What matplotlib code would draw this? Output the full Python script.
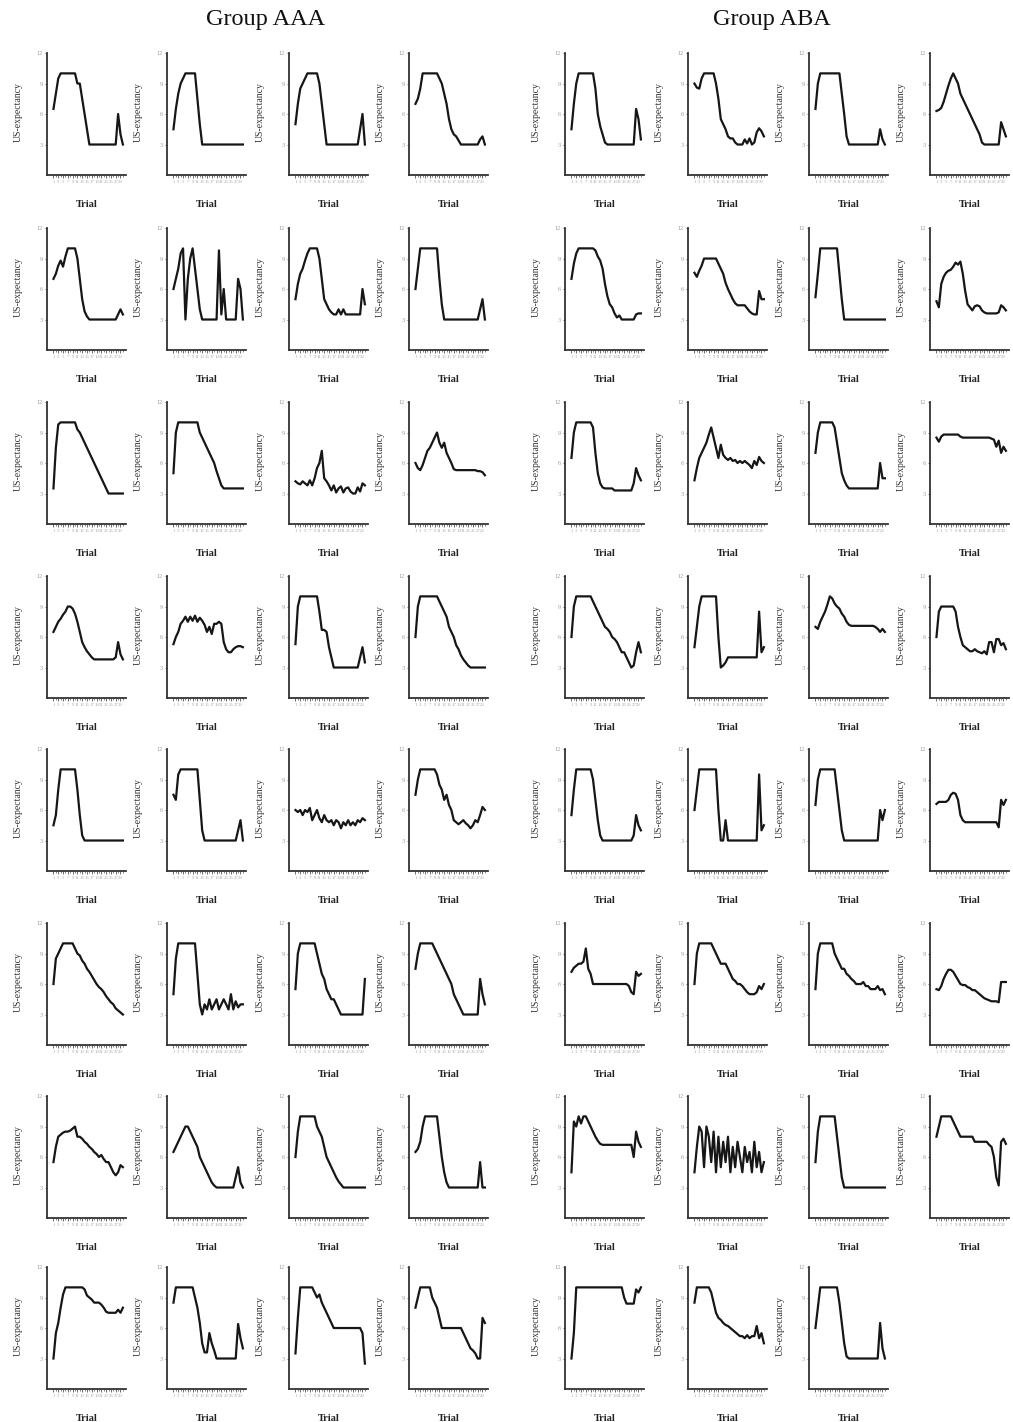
import matplotlib
matplotlib.use("Agg")
import matplotlib.pyplot as plt

plt.rcParams['font.family'] = ['Liberation Serif', 'DejaVu Serif']

trials = list(range(1, 31))
y_ticks = [3, 6, 9, 12]
x_ticks = list(range(1, 30, 2))
group_titles = ["Group AAA", "Group ABA"]

aaa_values = [
    [6.5, 8, 9.5, 10, 10, 10, 10, 10, 10, 10, 9, 9, 7.5, 6, 4.5, 3, 3, 3, 3, 3, 3, 3, 3, 3, 3, 3, 3, 6, 4, 3],
    [4.5, 6.5, 8, 9, 9.5, 10, 10, 10, 10, 10, 7.5, 5, 3, 3, 3, 3, 3, 3, 3, 3, 3, 3, 3, 3, 3, 3, 3, 3, 3, 3],
    [5, 7, 8.5, 9, 9.5, 10, 10, 10, 10, 10, 9, 7, 5, 3, 3, 3, 3, 3, 3, 3, 3, 3, 3, 3, 3, 3, 3, 4.5, 6, 3],
    [7, 7.5, 8.5, 10, 10, 10, 10, 10, 10, 10, 9.5, 9, 8, 7, 5.5, 4.5, 4, 3.8, 3.4, 3, 3, 3, 3, 3, 3, 3, 3, 3.5, 3.8, 3],
    [7, 7.5, 8.3, 8.8, 8.2, 9.2, 10, 10, 10, 10, 9, 7, 5, 3.8, 3.3, 3, 3, 3, 3, 3, 3, 3, 3, 3, 3, 3, 3, 3.5, 4, 3.5],
    [6, 7, 8, 9.5, 10, 3, 7, 9, 10, 8, 6, 4, 3, 3, 3, 3, 3, 3, 3, 9.8, 3.5, 6, 3, 3, 3, 3, 3, 7, 6, 3],
    [5, 6.5, 7.5, 8, 8.8, 9.5, 10, 10, 10, 10, 9, 7, 5, 4.5, 4, 3.7, 3.5, 3.5, 4, 3.5, 4, 3.5, 3.5, 3.5, 3.5, 3.5, 3.5, 3.5, 6, 4.5],
    [6, 8, 10, 10, 10, 10, 10, 10, 10, 10, 7, 4.5, 3, 3, 3, 3, 3, 3, 3, 3, 3, 3, 3, 3, 3, 3, 3, 4, 5, 3],
    [3.5, 7.5, 9.8, 10, 10, 10, 10, 10, 10, 10, 9.3, 9, 8.5, 8, 7.5, 7, 6.5, 6, 5.5, 5, 4.5, 4, 3.5, 3, 3, 3, 3, 3, 3, 3],
    [5, 9, 10, 10, 10, 10, 10, 10, 10, 10, 10, 9, 8.5, 8, 7.5, 7, 6.5, 6, 5.2, 4.5, 3.8, 3.5, 3.5, 3.5, 3.5, 3.5, 3.5, 3.5, 3.5, 3.5],
    [4.2, 4.0, 3.9, 4.2, 4.0, 3.8, 4.3, 3.8, 4.5, 5.5, 6, 7.2, 4.5, 4.2, 3.8, 3.3, 3.8, 3.1, 3.5, 3.7, 3.1, 3.5, 3.6, 3.2, 3.0, 3.0, 3.6, 3.2, 4.0, 3.8],
    [6, 5.5, 5.3, 5.8, 6.5, 7.2, 7.5, 8, 8.5, 9, 8, 7.5, 8, 7, 6.5, 6, 5.4, 5.3, 5.3, 5.3, 5.3, 5.3, 5.3, 5.3, 5.3, 5.3, 5.2, 5.2, 5.1, 4.8],
    [6.5, 7, 7.5, 7.8, 8.2, 8.5, 9, 9, 8.8, 8.3, 7.5, 6.5, 5.5, 5, 4.6, 4.3, 4, 3.8, 3.8, 3.8, 3.8, 3.8, 3.8, 3.8, 3.8, 3.8, 4, 5.5, 4.3, 3.8],
    [5.3, 6, 6.5, 7.3, 7.6, 8, 7.5, 8, 7.6, 8.1, 7.5, 7.9, 7.6, 7.2, 6.5, 7.0, 6.3, 7.3, 7.3, 7.5, 7.3, 5.5, 4.8, 4.5, 4.5, 4.8, 5, 5.1, 5.1, 5.0],
    [5.3, 9, 10, 10, 10, 10, 10, 10, 10, 10, 8.5, 6.7, 6.7, 6.5, 5, 4, 3, 3, 3, 3, 3, 3, 3, 3, 3, 3, 3, 4, 5, 3.5],
    [6, 9, 10, 10, 10, 10, 10, 10, 10, 10, 9.5, 9, 8.5, 8, 7, 6.5, 6, 5.2, 4.8, 4.2, 3.8, 3.5, 3.2, 3, 3, 3, 3, 3, 3, 3],
    [4.5, 5.5, 8, 10, 10, 10, 10, 10, 10, 10, 8, 5.5, 3.5, 3, 3, 3, 3, 3, 3, 3, 3, 3, 3, 3, 3, 3, 3, 3, 3, 3],
    [7.5, 7, 9.5, 10, 10, 10, 10, 10, 10, 10, 10, 7, 4, 3, 3, 3, 3, 3, 3, 3, 3, 3, 3, 3, 3, 3, 3, 4, 5, 3],
    [6, 5.8, 6, 5.5, 6, 5.8, 6.2, 5, 5.5, 6, 5.2, 4.8, 5.5, 5, 4.8, 5, 4.5, 5, 4.8, 4.2, 4.8, 4.5, 5, 4.5, 4.8, 4.5, 5, 4.8, 5.2, 5],
    [7.5, 9, 10, 10, 10, 10, 10, 10, 10, 9.5, 8.5, 8, 7, 7.5, 6.5, 6, 5, 4.8, 4.6, 4.8, 5, 4.7, 4.5, 4.2, 4.5, 5, 4.8, 5.5, 6.3, 6],
    [6, 8.5, 9, 9.5, 10, 10, 10, 10, 10, 9.5, 9, 8.8, 8.3, 8, 7.5, 7.2, 6.8, 6.4, 6, 5.7, 5.5, 5.2, 4.8, 4.5, 4.2, 4, 3.6, 3.4, 3.2, 3],
    [5, 8.5, 10, 10, 10, 10, 10, 10, 10, 10, 7, 4, 3, 4, 3.5, 4.5, 3.5, 4, 4.5, 3.5, 4, 4.5, 4, 3.5, 5, 3.5, 4.3, 3.7, 4, 4],
    [5.5, 9, 10, 10, 10, 10, 10, 10, 10, 9, 8, 7, 6.5, 5.5, 5, 4.5, 4.5, 4, 3.5, 3, 3, 3, 3, 3, 3, 3, 3, 3, 3, 6.5],
    [7.5, 9, 10, 10, 10, 10, 10, 10, 9.5, 9, 8.5, 8, 7.5, 7, 6.5, 6, 5, 4.5, 4, 3.5, 3, 3, 3, 3, 3, 3, 3, 6.5, 5, 4],
    [5.5, 7, 8, 8.2, 8.4, 8.5, 8.5, 8.6, 8.8, 9, 8, 8, 7.8, 7.5, 7.3, 7, 6.8, 6.5, 6.3, 6, 6.2, 5.8, 5.5, 5.5, 5, 4.5, 4.2, 4.5, 5.2, 5],
    [6.5, 7, 7.5, 8, 8.5, 9, 9, 8.5, 8, 7.5, 7, 6, 5.5, 5, 4.5, 4, 3.5, 3.2, 3, 3, 3, 3, 3, 3, 3, 3, 4, 5, 3.5, 3],
    [6, 8.5, 10, 10, 10, 10, 10, 10, 10, 9, 8.5, 8, 7, 6, 5.5, 5, 4.5, 4, 3.6, 3.3, 3, 3, 3, 3, 3, 3, 3, 3, 3, 3],
    [6.5, 6.8, 7.5, 9, 10, 10, 10, 10, 10, 10, 8, 6, 4.5, 3.5, 3, 3, 3, 3, 3, 3, 3, 3, 3, 3, 3, 3, 3, 5.5, 3, 3],
    [3, 5.5, 6.5, 8, 9.3, 10, 10, 10, 10, 10, 10, 10, 10, 9.8, 9.2, 9, 8.8, 8.5, 8.5, 8.5, 8.3, 8, 7.6, 7.5, 7.5, 7.5, 7.5, 7.8, 7.5, 8],
    [8.5, 10, 10, 10, 10, 10, 10, 10, 10, 9, 8, 6.5, 4.5, 3.6, 3.6, 5.5, 4.5, 3.8, 3, 3, 3, 3, 3, 3, 3, 3, 3, 6.4, 5, 4],
    [3.5, 7, 10, 10, 10, 10, 10, 10, 9.5, 9, 9.3, 8.5, 8, 7.5, 7, 6.5, 6, 6, 6, 6, 6, 6, 6, 6, 6, 6, 6, 6, 5.5, 2.5],
    [8, 9, 10, 10, 10, 10, 10, 9, 8.5, 8, 7, 6, 6, 6, 6, 6, 6, 6, 6, 6, 5.5, 5, 4.5, 4, 3.8, 3.5, 3, 3, 7, 6.5],
]

aba_values = [
    [4.5, 7, 9, 10, 10, 10, 10, 10, 10, 10, 8.5, 6, 4.8, 4, 3.2, 3, 3, 3, 3, 3, 3, 3, 3, 3, 3, 3, 3, 6.5, 5.5, 3.5],
    [9, 8.6, 8.5, 9.5, 10, 10, 10, 10, 10, 9, 7.5, 5.5, 5, 4.5, 3.8, 3.6, 3.6, 3.2, 3, 3, 3, 3.5, 3.1, 3.6, 3, 3.2, 4.2, 4.6, 4.3, 3.8],
    [6.5, 9, 10, 10, 10, 10, 10, 10, 10, 10, 10, 8, 6, 3.8, 3, 3, 3, 3, 3, 3, 3, 3, 3, 3, 3, 3, 3, 4.5, 3.5, 3],
    [6.3, 6.4, 6.6, 7.2, 8, 8.8, 9.5, 10, 9.5, 9, 8, 7.5, 7, 6.5, 6, 5.5, 5, 4.5, 4, 3.2, 3, 3, 3, 3, 3, 3, 3, 5.2, 4.5, 3.8],
    [7, 8.5, 9.5, 10, 10, 10, 10, 10, 10, 10, 9.8, 9.2, 8.8, 8, 6.5, 5.3, 4.5, 4.2, 3.6, 3.2, 3.4, 3, 3, 3, 3, 3, 3, 3.5, 3.6, 3.6],
    [7.6, 7.2, 7.8, 8.3, 9, 9, 9, 9, 9, 9, 8.5, 8, 7.5, 6.6, 6, 5.5, 5, 4.6, 4.4, 4.4, 4.4, 4.4, 4.1, 3.8, 3.6, 3.5, 3.5, 5.8, 5, 5],
    [5.2, 7.5, 10, 10, 10, 10, 10, 10, 10, 10, 7.5, 5, 3, 3, 3, 3, 3, 3, 3, 3, 3, 3, 3, 3, 3, 3, 3, 3, 3, 3],
    [4.8, 4.2, 6.5, 7.2, 7.6, 7.8, 7.9, 8.2, 8.6, 8.4, 8.7, 7.5, 5.8, 4.5, 4.2, 3.9, 4.3, 4.4, 4.3, 3.9, 3.7, 3.6, 3.6, 3.6, 3.6, 3.6, 3.7, 4.4, 4.2, 3.9],
    [6.5, 9, 10, 10, 10, 10, 10, 10, 10, 9.5, 7, 5, 4, 3.6, 3.5, 3.5, 3.5, 3.5, 3.3, 3.3, 3.3, 3.3, 3.3, 3.3, 3.3, 3.3, 4, 5.5, 4.8, 4.3],
    [4.3, 5.5, 6.5, 7, 7.5, 8, 8.8, 9.5, 8.5, 7.5, 6.5, 7.8, 6.8, 6.5, 6.3, 6.5, 6.2, 6.3, 6, 6.2, 6, 6.2, 6, 5.8, 5.5, 6.2, 5.8, 6.6, 6.2, 6],
    [7, 9, 10, 10, 10, 10, 10, 10, 9.5, 8, 6.5, 5, 4.3, 3.8, 3.5, 3.5, 3.5, 3.5, 3.5, 3.5, 3.5, 3.5, 3.5, 3.5, 3.5, 3.5, 3.5, 6, 4.5, 4.5],
    [8.5, 8.1, 8.6, 8.8, 8.8, 8.8, 8.8, 8.8, 8.8, 8.8, 8.6, 8.5, 8.5, 8.5, 8.5, 8.5, 8.5, 8.5, 8.5, 8.5, 8.5, 8.5, 8.5, 8.4, 8.3, 7.6, 8.2, 7.0, 7.6, 7.2],
    [6, 9, 10, 10, 10, 10, 10, 10, 10, 9.5, 9, 8.5, 8, 7.5, 7, 6.8, 6.5, 6, 5.8, 5.5, 5, 4.5, 4.5, 4, 3.5, 3, 3.2, 4.5, 5.5, 4.5],
    [5, 7, 9, 10, 10, 10, 10, 10, 10, 10, 6, 3, 3.2, 3.5, 4, 4, 4, 4, 4, 4, 4, 4, 4, 4, 4, 4, 4, 8.5, 4.5, 5],
    [7, 6.8, 7.5, 8, 8.5, 9.2, 10, 9.8, 9.3, 9, 8.8, 8.3, 8, 7.5, 7.2, 7.1, 7.1, 7.1, 7.1, 7.1, 7.1, 7.1, 7.1, 7.1, 7.1, 7, 6.8, 6.5, 6.8, 6.5],
    [6, 8.5, 9, 9, 9, 9, 9, 9, 8.5, 7, 6, 5.2, 5, 4.8, 4.6, 4.6, 4.8, 4.6, 4.5, 4.4, 4.6, 4.3, 5.5, 5.5, 4.5, 5.8, 5.8, 5.2, 5.4, 4.8],
    [5.5, 8, 10, 10, 10, 10, 10, 10, 10, 9, 7, 5, 3.5, 3, 3, 3, 3, 3, 3, 3, 3, 3, 3, 3, 3, 3, 3.5, 5.5, 4.5, 4],
    [6, 8, 10, 10, 10, 10, 10, 10, 10, 10, 6, 3, 3, 5, 3, 3, 3, 3, 3, 3, 3, 3, 3, 3, 3, 3, 3, 9.5, 4, 4.5],
    [6.5, 9, 10, 10, 10, 10, 10, 10, 10, 8, 6, 4, 3, 3, 3, 3, 3, 3, 3, 3, 3, 3, 3, 3, 3, 3, 3, 6, 5, 6],
    [6.6, 6.8, 6.8, 6.8, 6.8, 7, 7.5, 7.7, 7.6, 7, 5.5, 5, 4.8, 4.8, 4.8, 4.8, 4.8, 4.8, 4.8, 4.8, 4.8, 4.8, 4.8, 4.8, 4.8, 4.8, 4.3, 7, 6.5, 7],
    [7.2, 7.6, 7.8, 8, 8, 8.2, 9.5, 7.5, 7, 6, 6, 6, 6, 6, 6, 6, 6, 6, 6, 6, 6, 6, 6, 6, 5.8, 5.2, 5, 7.2, 6.8, 7],
    [6, 9, 10, 10, 10, 10, 10, 10, 9.5, 9, 8.5, 8, 8, 8, 7.5, 7, 6.5, 6.3, 6, 6, 5.8, 5.5, 5.2, 5, 5, 5, 5.2, 5.8, 5.5, 6],
    [5.5, 9, 10, 10, 10, 10, 10, 10, 9, 8.5, 8, 7.5, 7.5, 7, 6.8, 6.5, 6.3, 6, 6, 6, 6.2, 5.8, 5.8, 5.5, 5.5, 5.5, 5.8, 5.4, 5.5, 5],
    [5.5, 5.4, 5.8, 6.5, 7, 7.4, 7.4, 7.2, 6.8, 6.4, 6, 5.9, 5.9, 5.7, 5.6, 5.4, 5.4, 5.2, 5, 4.8, 4.6, 4.5, 4.4, 4.3, 4.3, 4.3, 4.2, 6.2, 6.2, 6.2],
    [4.5, 9.5, 9, 10, 9.3, 10, 10, 9.5, 9, 8.5, 8, 7.6, 7.3, 7.2, 7.2, 7.2, 7.2, 7.2, 7.2, 7.2, 7.2, 7.2, 7.2, 7.2, 7.2, 7.2, 6, 8.5, 7.5, 7],
    [4.5, 7, 9, 8.5, 5, 9, 8, 5.5, 8.5, 4.5, 8, 5, 7.5, 5.5, 8, 4.5, 7, 5, 7.5, 6, 4.5, 7, 5.5, 6.5, 4.5, 7.5, 5, 6.5, 4.5, 5.5],
    [5.5, 8.5, 10, 10, 10, 10, 10, 10, 10, 8, 6, 4, 3, 3, 3, 3, 3, 3, 3, 3, 3, 3, 3, 3, 3, 3, 3, 3, 3, 3],
    [8, 9, 10, 10, 10, 10, 10, 9.5, 9, 8.5, 8, 8, 8, 8, 8, 8, 7.5, 7.5, 7.5, 7.5, 7.5, 7.5, 7.2, 7, 6, 4, 3.2, 7.5, 7.8, 7.3],
    [3, 5.5, 10, 10, 10, 10, 10, 10, 10, 10, 10, 10, 10, 10, 10, 10, 10, 10, 10, 10, 10, 10, 9, 8.4, 8.4, 8.4, 8.4, 9.8, 9.5, 10],
    [8.5, 10, 10, 10, 10, 10, 10, 9.5, 8.5, 7.5, 7, 6.8, 6.5, 6.3, 6.2, 6, 5.8, 5.6, 5.4, 5.2, 5.2, 5, 5.3, 5, 5.2, 5.2, 6.2, 5, 5.5, 4.5],
    [6, 8, 10, 10, 10, 10, 10, 10, 10, 10, 8.5, 6.5, 4.5, 3.2, 3, 3, 3, 3, 3, 3, 3, 3, 3, 3, 3, 3, 3, 6.5, 4, 3],
]

bad = [(g, i, len(v)) for g, vals in (("aaa", aaa_values), ("aba", aba_values))
       for i, v in enumerate(vals) if len(v) != len(trials)]
if bad:
    raise SystemExit("length mismatch: %s" % bad)

W, H = 1013, 1422
fig = plt.figure(figsize=(W / 100, H / 100), dpi=100)

group_cols = [[47, 167, 289, 409], [565, 688, 809, 930]]
row_bottoms = [175, 350, 524, 698, 871, 1045, 1218, 1389]
ax_w, ax_h = 79, 125


def draw_panel(left, bottom, values):
    ax = fig.add_axes([left / W, 1 - bottom / H, ax_w / W, ax_h / H])
    ax.plot(trials, values, color='#161616', lw=1.6, solid_joinstyle='round')
    ax.set_xlim(-1.7, 31.3)
    ax.set_ylim(0, 12.3)
    for s in ('top', 'right'):
        ax.spines[s].set_visible(False)
    for s in ('left', 'bottom'):
        ax.spines[s].set_color('#333333')
        ax.spines[s].set_linewidth(1.3)
    ax.spines['left'].set_bounds(0, 12)
    ax.set_yticks(y_ticks)
    ax.set_yticklabels([str(t) for t in y_ticks], fontsize=4.5, color='#9a9a9a')
    ax.set_xticks(x_ticks)
    ax.set_xticklabels([str(t) for t in x_ticks], fontsize=3.4, color='#a8a8a8')
    ax.set_xticks(trials, minor=True)
    ax.tick_params(axis='both', which='major', length=1.8, width=0.6, color='#555555', pad=1.5)
    ax.tick_params(axis='x', which='minor', length=1.2, width=0.5, color='#555555')
    ax.set_ylabel('US-expectancy', fontsize=7, color='#333333')
    ax.yaxis.set_label_coords(-0.31, 0.5)
    ax.set_xlabel('Trial', fontsize=7.5, fontweight='bold', color='#222222')
    ax.xaxis.set_label_coords(0.5, -0.2)
    ax.patch.set_alpha(0)
    return ax


for g, vals in enumerate((aaa_values, aba_values)):
    cols = group_cols[g]
    for i, v in enumerate(vals):
        r, c = divmod(i, 4)
        draw_panel(cols[c], row_bottoms[r], v)

fig.text(266 / W, 1 - 19 / H, group_titles[0], ha='center', va='center', fontsize=17.5, color='#111111')
fig.text(772 / W, 1 - 19 / H, group_titles[1], ha='center', va='center', fontsize=17.5, color='#111111')

fig.savefig('out.png', dpi=100, facecolor='white')
